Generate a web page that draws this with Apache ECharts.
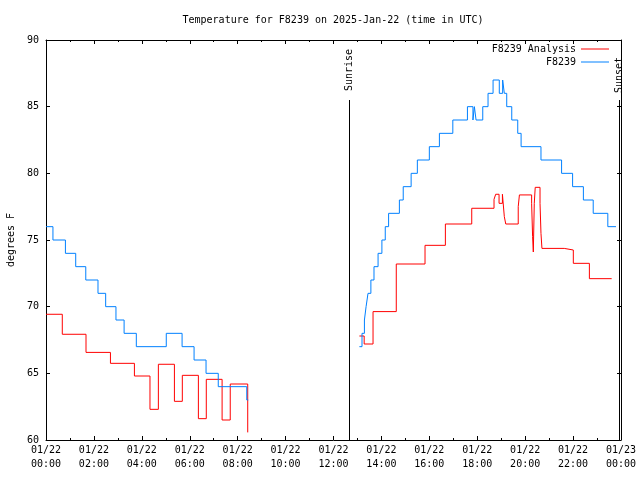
<!DOCTYPE html>
<html>
<head>
<meta charset="utf-8">
<script src="https://cdn.jsdelivr.net/npm/echarts@6/dist/echarts.min.js"></script>
<style>html,body{margin:0;padding:0;background:#fff}#c{width:640px;height:480px}</style>
</head>
<body>
<div id="c"></div>
<script>
// Hours since 2025-01-22 00:00 UTC; null marks the data gap
const obsTimes = [0.00,0.29,0.81,1.24,1.66,2.17,2.49,2.92,3.26,3.77,5.02,5.68,6.18,6.68,7.19,8.38,8.44,
  8.44,
  13.08,13.19,13.29,13.36,13.44,13.56,13.69,13.86,14.02,14.16,14.30,14.75,14.91,15.24,15.50,16.00,16.42,16.98,
  17.59,17.82,17.88,17.95,18.23,18.45,18.66,18.92,19.06,19.13,19.23,19.44,19.69,19.83,20.66,21.52,21.98,22.43,22.84,23.45,23.79];
const obsTemps = [76,75,74,73,72,71,70,69,68,67,68,67,66,65,64,63,63,
  null,
  67,68,69,70,71,72,73,74,75,76,77,78,79,80,81,82,83,84,
  85,84,85,84,85,86,87,86,87,86,85,84,83,82,81,80,79,78,77,76,76];

const anaTimes = [0.00,0.68,1.67,2.69,3.69,4.34,4.69,5.36,5.69,6.36,6.69,7.35,7.69,8.42,
  8.42,
  13.08,13.28,13.65,14.62,15.82,16.67,17.77,18.70,18.77,18.91,19.05,19.13,19.19,19.71,19.76,20.27,20.31,20.34,20.38,20.42,20.62,20.66,20.70,21.63,22.01,22.68,23.61];
const anaTemps = [69.43,67.93,66.57,65.75,64.8,62.3,65.68,62.9,64.85,61.6,64.55,61.5,64.2,60.57,
  null,
  67.8,67.2,69.63,73.2,74.6,76.2,77.38,78.05,78.43,77.75,78.43,76.75,76.2,77.5,78.38,77.75,75.25,74.1,77.75,78.95,77.75,75.5,74.37,74.25,73.25,72.1,72.1];

const sunriseHour = 12.66;
const sunsetHour = 23.93;
const sunLineTop = 85.5;

const FONT = 'DejaVu Sans Mono';
const chart = echarts.init(document.getElementById('c'), null, {renderer: 'canvas'});

function pairs(t, v) { return t.map((x, i) => [x, v[i]]); }
function fmtTick(v) {
  const day = v >= 24 ? '01/23' : '01/22';
  const h = Math.round(v) % 24;
  return day + '\n' + (h < 10 ? '0' : '') + h + ':00';
}

const axisCommon = {
  type: 'value', min: 0, max: 24, interval: 2,
  axisLine: {show: true, onZero: false, lineStyle: {color: '#000', width: 1}},
  axisTick: {show: true, inside: true, length: 4, lineStyle: {color: '#000'}},
  minorTick: {show: true, splitNumber: 2, length: 2, lineStyle: {color: '#000'}},
  splitLine: {show: false}, minorSplitLine: {show: false}
};
const yCommon = {
  type: 'value', min: 60, max: 90, interval: 5,
  axisLine: {show: true, onZero: false, lineStyle: {color: '#000', width: 1}},
  axisTick: {show: true, inside: true, length: 4, lineStyle: {color: '#000'}},
  splitLine: {show: false}
};

chart.setOption({
  animation: false,
  backgroundColor: '#fff',
  title: {
    text: 'Temperature for F8239 on 2025-Jan-22 (time in UTC)',
    left: 333, top: 15, textAlign: 'center', padding: 0,
    textStyle: {fontFamily: FONT, fontSize: 10, fontWeight: 'normal', color: '#000'}
  },
  legend: {
    data: ['F8239 Analysis', 'F8239'],
    orient: 'vertical', align: 'right', right: 31, top: 43, padding: 0,
    itemWidth: 28, itemHeight: 1, itemGap: 1, icon: 'rect',
    textStyle: {fontFamily: FONT, fontSize: 10, color: '#000', lineHeight: 12}
  },
  grid: {left: 46, right: 19, top: 40, bottom: 40, containLabel: false, outerBoundsMode: 'none'},
  xAxis: [
    Object.assign({}, axisCommon, {position: 'bottom',
      axisLabel: {show: true, margin: 3, fontFamily: FONT, fontSize: 10, color: '#000', lineHeight: 14, formatter: fmtTick}}),
    Object.assign({}, axisCommon, {position: 'top', axisLabel: {show: false}})
  ],
  yAxis: [
    Object.assign({}, yCommon, {position: 'left', name: 'degrees F', nameLocation: 'middle', nameRotate: 90, nameGap: 30,
      nameTextStyle: {fontFamily: FONT, fontSize: 10, color: '#000'},
      axisLabel: {show: true, margin: 7, fontFamily: FONT, fontSize: 10, color: '#000'}}),
    Object.assign({}, yCommon, {position: 'right', axisLabel: {show: false}})
  ],
  series: [
    {
      name: 'F8239 Analysis', type: 'line', step: 'end', showSymbol: false, symbol: 'none',
      data: pairs(anaTimes, anaTemps), connectNulls: false,
      itemStyle: {color: '#ff0000'}, lineStyle: {color: '#ff0000', width: 1},
      markLine: {
        silent: true, symbol: ['none', 'none'], label: {show: false},
        lineStyle: {color: '#000', width: 1, type: 'solid'},
        data: [
          [{coord: [sunriseHour, sunLineTop]}, {coord: [sunriseHour, 60]}],
          [{coord: [sunsetHour, sunLineTop]}, {coord: [sunsetHour, 60]}]
        ]
      }
    },
    {
      name: 'F8239', type: 'line', step: 'end', showSymbol: false, symbol: 'none',
      data: pairs(obsTimes, obsTemps), connectNulls: false,
      itemStyle: {color: '#0080ff'}, lineStyle: {color: '#0080ff', width: 1}
    }
  ]
});

const pr = chart.convertToPixel({gridIndex: 0}, [sunriseHour, sunLineTop]);
const ps = chart.convertToPixel({gridIndex: 0}, [sunsetHour, sunLineTop]);
chart.setOption({
  graphic: [
    {type: 'text', x: pr[0], y: pr[1] - 9, rotation: Math.PI / 2,
      style: {text: 'Sunrise', fontFamily: FONT, fontSize: 10, fill: '#000', align: 'left', verticalAlign: 'middle'}},
    {type: 'text', x: ps[0], y: ps[1] - 7, rotation: Math.PI / 2,
      style: {text: 'Sunset', fontFamily: FONT, fontSize: 10, fill: '#000', align: 'left', verticalAlign: 'middle'}}
  ]
});
</script>
</body>
</html>
